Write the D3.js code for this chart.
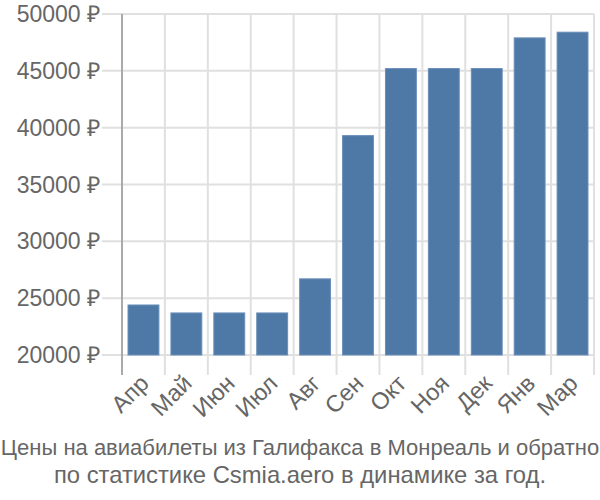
<!DOCTYPE html>
<html><head><meta charset="utf-8">
<script src="https://cdn.jsdelivr.net/npm/d3@7"></script>
<style>body{margin:0;background:#fff}svg{font-family:"Liberation Sans",Arial,sans-serif}</style>
</head><body>
<svg id="c" width="600" height="500"></svg>
<script>
const categories = ["Апр","Май","Июн","Июл","Авг","Сен","Окт","Ноя","Дек","Янв","Мар"];
const values = [24400,23700,23700,23700,26700,39300,45200,45200,45200,47900,48400];
const yTicks = [20000,25000,30000,35000,40000,45000,50000];
const titleLines = ["Цены на авиабилеты из Галифакса в Монреаль и обратно","по статистике Csmia.aero в динамике за год."];

const svg = d3.select("#c");
const L = 122, R = 594, T = 14, B = 355;
const x = d3.scaleBand().domain(categories).range([L, R]).paddingInner(0.28).paddingOuter(0.14);
const y = d3.scaleLinear().domain([20000, 50000]).range([B, T]);
const step = x.step();

// horizontal grid
svg.append("g").selectAll("line").data(yTicks).join("line")
  .attr("x1", L - 20).attr("x2", R).attr("y1", d => y(d)).attr("y2", d => y(d))
  .attr("stroke", "#e0e0e0").attr("stroke-width", 2);
// vertical grid (band boundaries)
const bounds = d3.range(categories.length + 1).map(i => L + i * step);
svg.append("g").selectAll("line").data(bounds.slice(1)).join("line")
  .attr("x1", d => d).attr("x2", d => d).attr("y1", T).attr("y2", B + 20)
  .attr("stroke", "#e0e0e0").attr("stroke-width", 2);
// y axis line
svg.append("line").attr("x1", L).attr("x2", L).attr("y1", T).attr("y2", B + 20)
  .attr("stroke", "#aaa").attr("stroke-width", 2);

// bars
svg.append("g").selectAll("rect").data(values).join("rect")
  .attr("x", (d, i) => x(categories[i]))
  .attr("width", x.bandwidth())
  .attr("y", d => y(d))
  .attr("height", d => y(20000) - y(d))
  .attr("fill", "#4e79a7").attr("stroke", "#6a8fb8").attr("stroke-width", 1);

// y labels
svg.append("g").selectAll("text").data(yTicks).join("text")
  .attr("x", L - 22).attr("y", d => y(d)).attr("dy", "0.35em")
  .attr("text-anchor", "end").attr("font-size", 23).attr("fill", "#666")
  .text(d => d + " ₽");

// x labels
svg.append("g").selectAll("text").data(categories).join("text")
  .attr("transform", d => `translate(${x(d) + x.bandwidth()/2 + 1},${B + 24}) rotate(-45)`)
  .attr("text-anchor", "end").attr("dy", "0.35em").attr("font-size", 23.5).attr("fill", "#666")
  .text(d => d);

// title
const titleSizes = [22, 23.8];
svg.append("g").selectAll("text").data(titleLines).join("text")
  .attr("x", 300).attr("y", (d, i) => 455 + i * 28)
  .attr("text-anchor", "middle").attr("font-size", (d, i) => titleSizes[i]).attr("fill", "#666")
  .text(d => d);
</script>
</body></html>
